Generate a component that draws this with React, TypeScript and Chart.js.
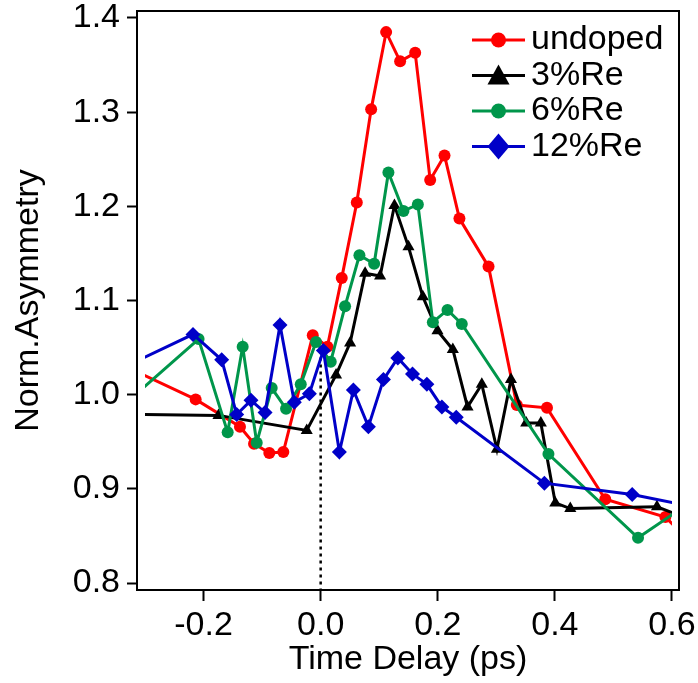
import React, { useEffect, useRef } from 'react';
import { Chart, registerables } from 'chart.js';

Chart.register(...registerables);

// ---- data ----
const seriesNames = ['undoped', '3%Re', '6%Re', '12%Re'];

const undopedX = [-0.32, -0.2135, -0.1378, -0.1138, -0.0877, -0.0638, -0.0135, 0.0115, 0.036, 0.0617, 0.0862, 0.1118, 0.1357, 0.1614, 0.187, 0.2115, 0.237, 0.2867, 0.335, 0.3865, 0.486, 0.5887, 0.62];
const undopedY = [1.026, 0.995, 0.966, 0.948, 0.938, 0.939, 1.063, 1.051, 1.124, 1.204, 1.303, 1.385, 1.354, 1.363, 1.228, 1.254, 1.187, 1.136, 0.989, 0.986, 0.889, 0.870, 0.851];

const re3X = [-0.32, -0.1745, -0.0238, 0.0263, 0.0503, 0.0759, 0.1015, 0.126, 0.15, 0.1745, 0.1995, 0.2257, 0.2508, 0.2752, 0.301, 0.325, 0.351, 0.376, 0.4007, 0.4263, 0.5743, 0.62];
const re3Y = [0.979, 0.978, 0.962, 1.021, 1.055, 1.129, 1.126, 1.201, 1.157, 1.104, 1.068, 1.048, 0.987, 1.011, 0.942, 1.016, 0.970, 0.970, 0.885, 0.879, 0.881, 0.870];

const re6X = [-0.32, -0.2085, -0.1588, -0.1332, -0.1092, -0.0836, -0.0591, -0.034, -0.0079, 0.0172, 0.0417, 0.0662, 0.0913, 0.1157, 0.1414, 0.166, 0.1916, 0.2166, 0.241, 0.389, 0.542, 0.62];
const re6Y = [0.998, 1.059, 0.960, 1.051, 0.949, 1.007, 0.985, 1.011, 1.056, 1.035, 1.094, 1.148, 1.139, 1.236, 1.195, 1.202, 1.077, 1.090, 1.075, 0.937, 0.848, 0.881];

const re12X = [-0.32, -0.218, -0.169, -0.1434, -0.119, -0.095, -0.0694, -0.045, -0.0193, 0.0046, 0.032, 0.0559, 0.0815, 0.1072, 0.1318, 0.1568, 0.1814, 0.207, 0.2315, 0.382, 0.532, 0.62];
const re12Y = [1.034, 1.064, 1.037, 0.979, 0.994, 0.981, 1.074, 0.992, 1.001, 1.047, 0.939, 1.005, 0.966, 1.016, 1.039, 1.022, 1.011, 0.987, 0.976, 0.906, 0.894, 0.883];

const xTicks = [-0.2, 0.0, 0.2, 0.4, 0.6];
const yTicks = [0.8, 0.9, 1.0, 1.1, 1.2, 1.3, 1.4];

// dotted marker at time zero
const zeroMarkerX = 0;
const zeroMarkerTop = 1.047;

export default function App() {
  const ref = useRef<HTMLCanvasElement>(null);

  useEffect(() => {
    document.body.style.margin = '0';
    const canvas = ref.current!;
    const FONT = "'Liberation Sans', Arial, Helvetica, sans-serif";
    const colors = ['#ff0000', '#000000', '#00964b', '#0000c8'];
    const markers = ['circle', 'triangle', 'circle', 'rectRot'];
    const radii = [6, 7, 6, 7.5];
    const xsAll = [undopedX, re3X, re6X, re12X];
    const ysAll = [undopedY, re3Y, re6Y, re12Y];

    const datasets = seriesNames.map((name, i) => ({
      label: name,
      data: xsAll[i].map((x, j) => ({ x, y: ysAll[i][j] })),
      borderColor: colors[i],
      backgroundColor: colors[i],
      pointBackgroundColor: colors[i],
      pointBorderColor: colors[i],
      pointStyle: markers[i] as any,
      pointRadius: radii[i],
      pointBorderWidth: 0,
      borderWidth: 3,
      tension: 0,
      order: 3 - i,
      clip: { left: -8, right: -7, top: -7, bottom: -7 },
    }));

    const framePlugin = {
      id: 'frame',
      beforeDatasetsDraw(chart: any) {
        const { ctx, chartArea: a, scales } = chart;
        ctx.save();
        const x0 = scales.x.getPixelForValue(zeroMarkerX);
        const yTop = scales.y.getPixelForValue(zeroMarkerTop);
        ctx.strokeStyle = '#000';
        ctx.lineWidth = 2.5;
        ctx.setLineDash([3, 4]);
        ctx.beginPath();
        ctx.moveTo(x0, yTop);
        ctx.lineTo(x0, a.bottom);
        ctx.stroke();
        ctx.restore();
      },
      afterDraw(chart: any) {
        const { ctx, chartArea: a } = chart;
        ctx.save();
        ctx.strokeStyle = '#000';
        ctx.lineWidth = 2;
        ctx.strokeRect(a.left, a.top, a.right - a.left, a.bottom - a.top);
        ctx.restore();
      },
    };

    const legendPlugin = {
      id: 'customLegend',
      afterDraw(chart: any) {
        const { ctx } = chart;
        ctx.save();
        const x1 = 472, x2 = 525, mx = 498.5, tx = 531;
        seriesNames.forEach((name, i) => {
          const y = 40 + i * 35.5;
          const c = colors[i];
          ctx.strokeStyle = c;
          ctx.fillStyle = c;
          ctx.lineWidth = 3;
          ctx.beginPath();
          ctx.moveTo(x1, y);
          ctx.lineTo(x2, y);
          ctx.stroke();
          ctx.beginPath();
          if (markers[i] === 'circle') {
            ctx.arc(mx, y, 7.5, 0, Math.PI * 2);
          } else if (markers[i] === 'triangle') {
            ctx.moveTo(mx, y - 11);
            ctx.lineTo(mx - 11, y + 9);
            ctx.lineTo(mx + 11, y + 9);
            ctx.closePath();
          } else {
            ctx.moveTo(mx, y - 13);
            ctx.lineTo(mx + 11, y);
            ctx.lineTo(mx, y + 13);
            ctx.lineTo(mx - 11, y);
            ctx.closePath();
          }
          ctx.fill();
          ctx.fillStyle = '#000';
          ctx.font = `34px ${FONT}`;
          ctx.textBaseline = 'alphabetic';
          ctx.textAlign = 'left';
          ctx.fillText(name, tx, y + 9);
        });
        ctx.restore();
      },
    };

    const chart = new Chart(canvas, {
      type: 'line',
      data: { datasets: datasets as any },
      plugins: [framePlugin, legendPlugin],
      options: {
        animation: false,
        responsive: false,
        devicePixelRatio: 1,
        layout: { padding: { top: 11, right: 19, left: 0, bottom: 0 } },
        plugins: { legend: { display: false }, tooltip: { enabled: false } },
        scales: {
          x: {
            type: 'linear',
            min: -0.3 - 8 / 585.5,
            max: 0.6 + 7 / 585.5,
            afterBuildTicks: (s: any) => { s.ticks = xTicks.map((v) => ({ value: v })); },
            afterFit: (s: any) => { s.height = 93; s.paddingLeft = 0; s.paddingRight = 0; },
            ticks: {
              color: '#000',
              font: { family: FONT, size: 34 },
              padding: 4,
              maxRotation: 0,
              callback: (v: any) => Number(v).toFixed(1),
            },
            grid: { drawOnChartArea: false, drawTicks: true, tickLength: 11, tickWidth: 2, tickColor: '#000' },
            border: { display: true, color: '#000', width: 2 },
            title: {
              display: true,
              text: 'Time Delay (ps)',
              color: '#000',
              font: { family: FONT, size: 34 },
              padding: { top: 0, bottom: 3 },
            },
          },
          y: {
            type: 'linear',
            min: 0.8 - 7 / 941.7,
            max: 1.4 + 7 / 941.7,
            afterBuildTicks: (s: any) => { s.ticks = yTicks.map((v) => ({ value: v })); },
            afterFit: (s: any) => { s.width = 137; s.paddingTop = 0; s.paddingBottom = 0; },
            ticks: {
              color: '#000',
              font: { family: FONT, size: 34 },
              padding: 7,
              callback: (v: any) => Number(v).toFixed(1),
            },
            grid: { drawOnChartArea: false, drawTicks: true, tickLength: 10, tickWidth: 2, tickColor: '#000' },
            border: { display: true, color: '#000', width: 2 },
            title: {
              display: true,
              text: 'Norm.Asymmetry',
              color: '#000',
              font: { family: FONT, size: 34 },
              padding: { top: 8, bottom: 0 },
            },
          },
        },
      },
    });

    return () => chart.destroy();
  }, []);

  return <canvas ref={ref} width={698} height={683} style={{ display: 'block' }} />;
}
